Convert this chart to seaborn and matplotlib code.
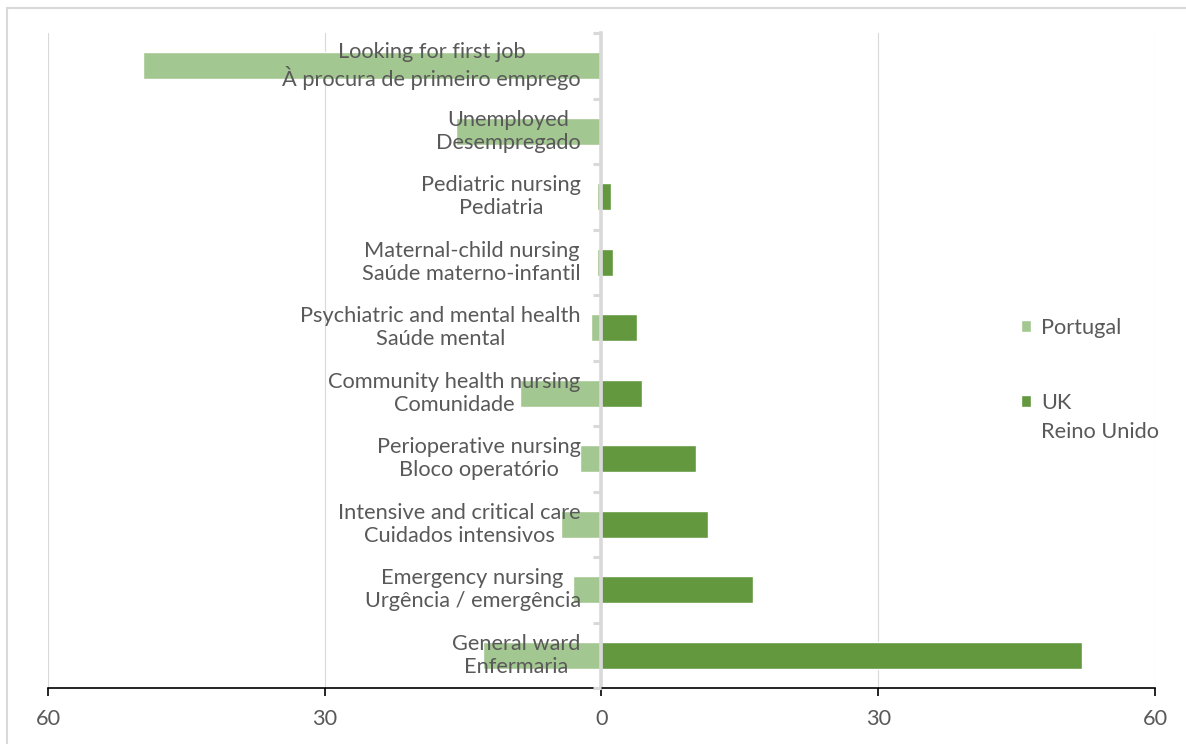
import numpy as np
import pandas as pd
import matplotlib
matplotlib.use("Agg")
import matplotlib.pyplot as plt
from matplotlib.patches import Rectangle
from matplotlib.ticker import FuncFormatter
import seaborn as sns

# Work area of recently graduated nurses (%), Portugal vs UK
categories = [
    "Looking for first job\nÀ procura de primeiro emprego",
    "Unemployed\nDesempregado",
    "Pediatric nursing\nPediatria",
    "Maternal-child nursing\nSaúde materno-infantil",
    "Psychiatric and mental health\nSaúde mental",
    "Community health nursing\nComunidade",
    "Perioperative nursing\nBloco operatório",
    "Intensive and critical care\nCuidados intensivos",
    "Emergency nursing\nUrgência / emergência",
    "General ward\nEnfermaria",
]
portugal = [49.7, 15.8, 0.5, 0.5, 1.1, 8.8, 2.3, 4.4, 3.1, 12.8]
uk = [0.0, 0.0, 1.0, 1.3, 3.8, 4.4, 10.2, 11.5, 16.4, 52.1]
series_names = ["Portugal", "UK"]
uk_subtitle = "Reino Unido"
x_ticks = [-60, -30, 0, 30, 60]

LIGHT = "#A3C790"
DARK = "#63983E"
TEXT = "#595959"
GRID = "#D9D9D9"

df = pd.DataFrame({
    "category": categories * 2,
    "country": [series_names[0]] * len(categories) + [series_names[1]] * len(categories),
    "value": [-v for v in portugal] + uk,
})

sns.set_theme(style="white")
plt.rcParams["font.family"] = ["Lato", "DejaVu Sans"]
FS = 15.7

W, H = 1186, 744
fig = plt.figure(figsize=(W / 100, H / 100), dpi=100)
ax = fig.add_axes([48 / W, 1 - 688 / H, (1155 - 48) / W, (688 - 33) / H])

sns.barplot(
    data=df, x="value", y="category", hue="country",
    order=categories, hue_order=series_names,
    palette={series_names[0]: LIGHT, series_names[1]: DARK},
    dodge=False, width=0.41, saturation=1, orient="h", ax=ax,
)

ax.set_xlim(x_ticks[0], x_ticks[-1])
ax.set_ylim(len(categories) - 0.5, -0.5)
ax.set_xlabel("")
ax.set_ylabel("")

# value axis
ax.set_xticks(x_ticks)
ax.xaxis.set_major_formatter(FuncFormatter(lambda v, p: f"{abs(v):g}"))
ax.tick_params(axis="x", direction="out", length=6, width=1.2, color="black",
               labelsize=FS, labelcolor=TEXT, pad=9, bottom=True)
ax.grid(axis="x", color=GRID, linewidth=0.8)
ax.grid(axis="y", visible=False)

# category axis through zero
ax.spines["left"].set_position(("data", 0))
ax.spines["left"].set_color(GRID)
ax.spines["left"].set_linewidth(2.6)
ax.spines["bottom"].set_color("black")
ax.spines["bottom"].set_linewidth(1.2)
ax.spines["top"].set_visible(False)
ax.spines["right"].set_visible(False)

ax.set_yticks(range(len(categories)))
ax.set_yticklabels(categories, multialignment="center", linespacing=1.18,
                   va="center")
ax.set_yticks(np.arange(-0.5, len(categories), 1), minor=True)
ax.tick_params(axis="y", which="major", length=0, pad=15, labelsize=FS, labelcolor=TEXT)
ax.tick_params(axis="y", which="minor", left=True, direction="out", length=6,
               width=2.2, color=GRID)
ax.yaxis.set_zorder(3)

# legend
handles, labels = ax.get_legend_handles_labels()
leg = ax.legend(
    handles, labels, loc="upper left",
    bbox_to_anchor=(1021 / W, 1 - 318 / H), bbox_transform=fig.transFigure,
    frameon=False, fontsize=FS, labelcolor=TEXT, borderpad=0, borderaxespad=0,
    handlelength=0.47, handleheight=0.47, handletextpad=0.47, labelspacing=2.5,
)
uk_text = leg.get_texts()[1]
ax.annotate(uk_subtitle, xy=(0, 0), xycoords=uk_text, xytext=(0, -6.5),
            textcoords="offset points", ha="left", va="top",
            fontsize=FS, color=TEXT, zorder=6)

# chart frame
fig.patches.append(Rectangle((7 / W, -0.1), 2, (1 - 8 / H) + 0.1,
                             transform=fig.transFigure, fill=False,
                             edgecolor=GRID, linewidth=1.5))

fig.savefig("out.png", dpi=100)
